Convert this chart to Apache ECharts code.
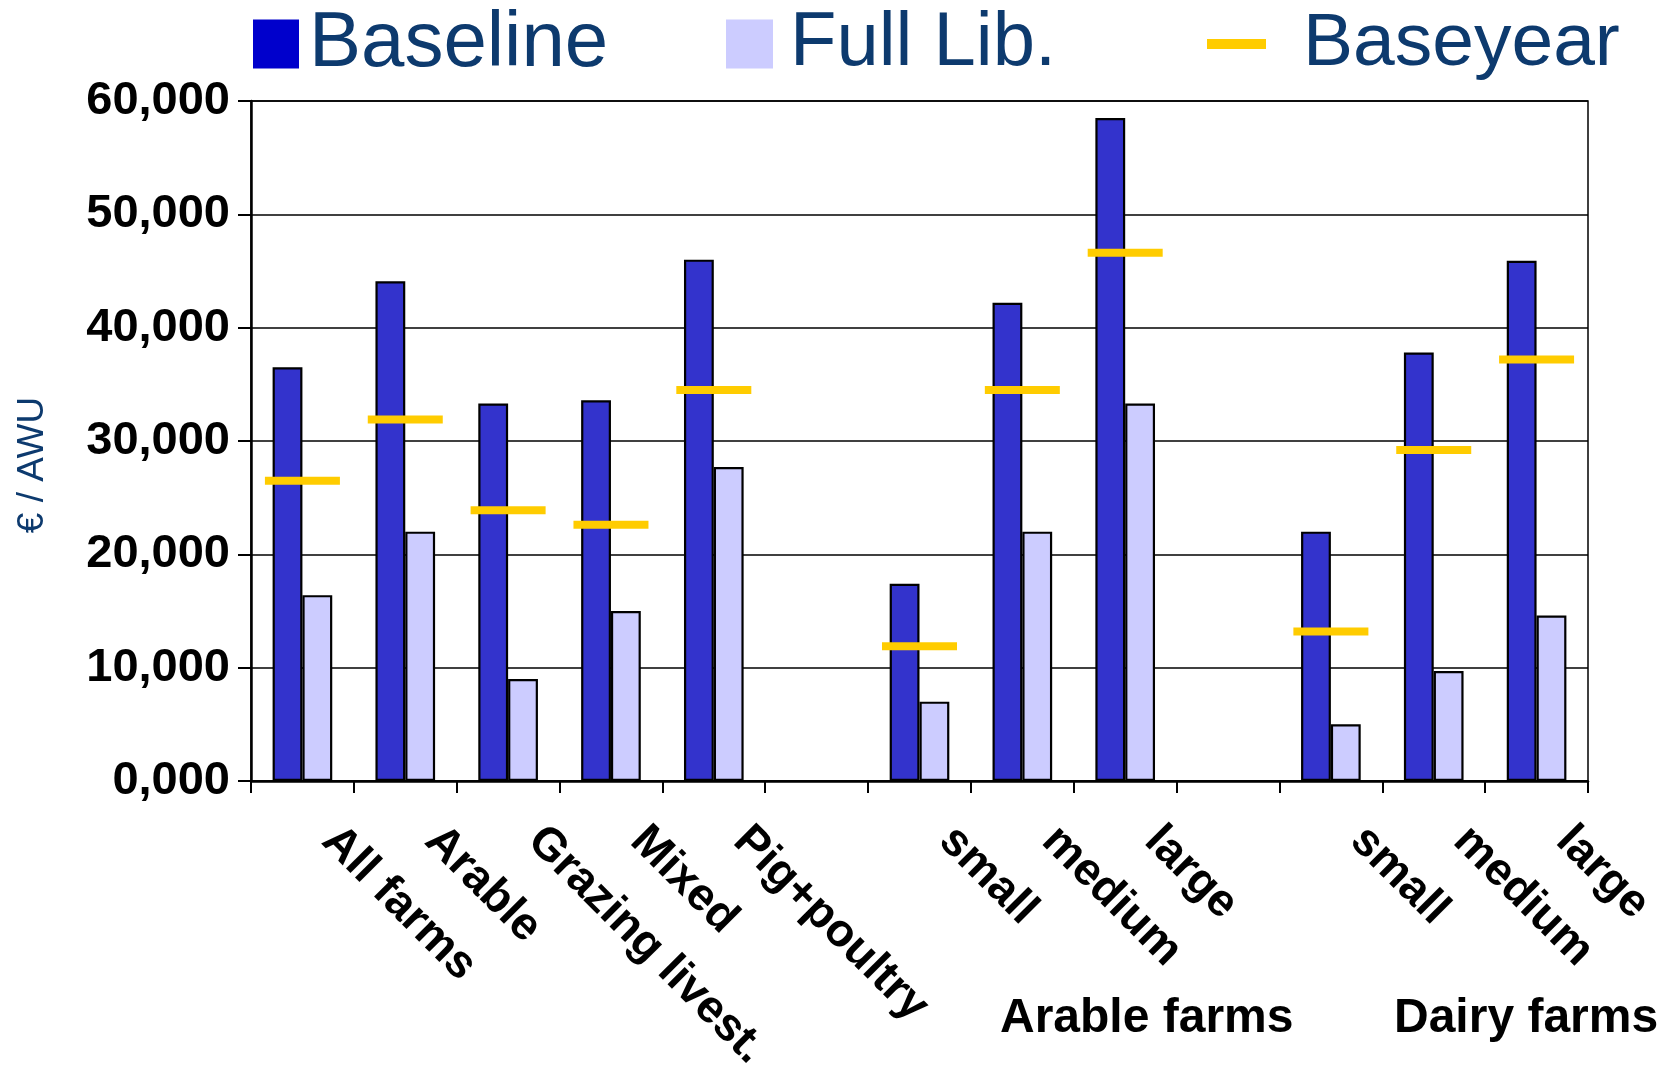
<!DOCTYPE html>
<html>
<head>
<meta charset="utf-8">
<script src="https://cdn.jsdelivr.net/npm/echarts@6/dist/echarts.min.js"></script>
<style>
  html, body { margin: 0; padding: 0; background: #fff; }
  #main { width: 1664px; height: 1065px; }
</style>
</head>
<body>
<div id="main"></div>
<script>
// categories ('' = empty spacer slot between groups)
const categories = ['All farms', 'Arable', 'Grazing livest.', 'Mixed', 'Pig+poultry', '',
  'small', 'medium', 'large', '', 'small', 'medium', 'large'];

// €/AWU values
const baseline = [36500, 44100, 33300, 33600, 46000, '-', 17400, 42200, 58500, '-', 22000, 37800, 45900];
const fullLib = [16400, 22000, 9000, 15000, 27700, '-', 7000, 22000, 33300, '-', 5000, 9700, 14600];
const baseyear = [26500, 31900, 23900, 22600, 34500, '-', 11900, 34500, 46600, '-', 13200, 29200, 37200];

const yTickLabels = ['0,000', '10,000', '20,000', '30,000', '40,000', '50,000', '60,000'];
const groupLabels = ['Arable farms', 'Dairy farms'];

const navy = '#0d3a6e';
const legendText = { color: navy, fontSize: 78, fontFamily: 'Liberation Sans, Arial, sans-serif', lineHeight: 82 };

const myChart = echarts.init(document.getElementById('main'), null, { renderer: 'canvas' });

const option = {
	backgroundColor: '#fff',
	animation: false,
	legend: [
		{
			left: 253, top: 3, padding: 0, itemWidth: 46, itemHeight: 49, icon: 'rect',
			data: [{ name: 'Baseline', itemStyle: { color: '#0000CC', borderWidth: 0 } }],
			textStyle: Object.assign({}, legendText, { padding: [0, 0, 0, 5] })
		},
		{
			left: 726, top: 3, padding: 0, itemWidth: 47, itemHeight: 49, icon: 'rect',
			data: [{ name: 'Full Lib.', itemStyle: { color: '#CCCCFF', borderWidth: 0 } }],
			textStyle: Object.assign({}, legendText, { fontSize: 76, padding: [0, 0, 0, 12] })
		},
		{
			left: 1207, top: 3, padding: 0, itemWidth: 59, itemHeight: 10, icon: 'rect',
			data: [{ name: 'Baseyear', itemStyle: { color: '#FFCC00' } }],
			textStyle: Object.assign({}, legendText, { fontSize: 75, padding: [0, 0, 0, 32] })
		}
	],
	grid: {
		left: 251, right: 76, top: 101, bottom: 284,
		outerBoundsMode: 'none',
		containLabel: false,
		show: true, borderColor: '#000', borderWidth: 1.5
	},
	xAxis: {
		type: 'category',
		data: categories,
		axisLine: { lineStyle: { color: '#000', width: 2.5 } },
		axisTick: { show: true, interval: 0, length: 12, lineStyle: { color: '#000', width: 2 } },
		axisLabel: {
			interval: 0,
			rotate: -45,
			margin: 26,
			padding: [0, 0, 0, 38],
			color: '#000',
			fontSize: 46,
			fontWeight: 'bold',
			fontFamily: 'Liberation Sans, Arial, sans-serif'
		}
	},
	yAxis: {
		type: 'value',
		min: 0,
		max: 60000,
		interval: 10000,
		name: '€ / AWU',
		nameLocation: 'middle',
		nameRotate: 90,
		nameGap: 200,
		nameTextStyle: { color: navy, fontSize: 37, fontFamily: 'Liberation Sans, Arial, sans-serif', padding: [0, 48, 0, 0] },
		axisLine: { show: true, lineStyle: { color: '#000', width: 2.5 } },
		axisTick: { show: true, length: 13, lineStyle: { color: '#000', width: 2 } },
		splitLine: { lineStyle: { color: '#000', width: 1.5 } },
		axisLabel: {
			margin: 21,
			color: '#000',
			fontSize: 47,
			fontWeight: 'bold',
			fontFamily: 'Liberation Sans, Arial, sans-serif',
			formatter: function (v) {
				return yTickLabels[Math.round(v / 10000)];
			}
		}
	},
	series: [
		{
			name: 'Baseline',
			type: 'bar',
			data: baseline,
			barGap: '0%',
			barCategoryGap: '42%',
			itemStyle: { color: '#3333CC', borderColor: '#000', borderWidth: 2.2 }
		},
		{
			name: 'Full Lib.',
			type: 'bar',
			data: fullLib,
			itemStyle: { color: '#CCCCFF', borderColor: '#000', borderWidth: 2.2 }
		},
		{
			name: 'Baseyear',
			type: 'scatter',
			data: baseyear,
			symbol: 'rect',
			symbolSize: [75, 8],
			z: 5,
			itemStyle: { color: '#FFCC00', opacity: 1 }
		}
	],
	graphic: [
		{
			type: 'text', left: 1000, top: 995,
			style: { text: groupLabels[0], fill: '#000', font: 'bold 48px "Liberation Sans", Arial, sans-serif' }
		},
		{
			type: 'text', left: 1394, top: 995,
			style: { text: groupLabels[1], fill: '#000', font: 'bold 48px "Liberation Sans", Arial, sans-serif' }
		}
	]
};

myChart.setOption(option);
window.onresize = myChart.resize;
</script>
</body>
</html>
